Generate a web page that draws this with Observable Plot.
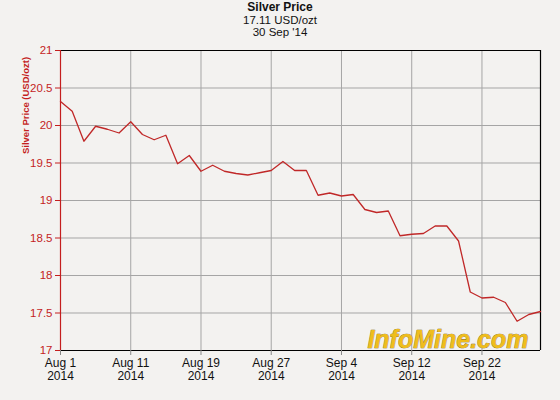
<!DOCTYPE html>
<html>
<head>
<meta charset="utf-8">
<script src="https://cdn.jsdelivr.net/npm/d3@7"></script>
<script src="https://cdn.jsdelivr.net/npm/@observablehq/plot@0.6"></script>
<style>
  html, body { margin: 0; padding: 0; background: #f3f2f0; }
  body { width: 560px; height: 400px; overflow: hidden; font-family: "Liberation Sans", Arial, sans-serif; }
  #title { height: 40px; text-align: center; color: #111; font-size: 11.5px; line-height: 12.5px; padding-top: 1px; box-sizing: border-box; }
  #title .main { font-weight: bold; font-size: 12px; }
  svg { display: block; }
</style>
</head>
<body>
<div id="title">
  <div class="main">Silver Price</div>
  <div>17.11 USD/ozt</div>
  <div>30 Sep '14</div>
</div>
<div id="chart"></div>
<script>
// Trading days, Aug 1 – Sep 29, 2014
const dates = [
  "Aug 1","Aug 4","Aug 5","Aug 6","Aug 7","Aug 8","Aug 11","Aug 12","Aug 13","Aug 14",
  "Aug 15","Aug 18","Aug 19","Aug 20","Aug 21","Aug 22","Aug 25","Aug 26","Aug 27","Aug 28",
  "Aug 29","Sep 1","Sep 2","Sep 3","Sep 4","Sep 5","Sep 8","Sep 9","Sep 10","Sep 11",
  "Sep 12","Sep 15","Sep 16","Sep 17","Sep 18","Sep 19","Sep 22","Sep 23","Sep 24","Sep 25",
  "Sep 26","Sep 29"
];
// Silver price, USD/ozt
const prices = [
  20.32, 20.19, 19.79, 19.99, 19.95, 19.90, 20.05, 19.88, 19.81, 19.87,
  19.49, 19.60, 19.39, 19.47, 19.39, 19.36, 19.34, 19.37, 19.40, 19.52,
  19.40, 19.40, 19.07, 19.10, 19.06, 19.08, 18.88, 18.84, 18.86, 18.53,
  18.55, 18.56, 18.66, 18.66, 18.46, 17.78, 17.70, 17.71, 17.64, 17.39,
  17.48, 17.52
];
const tickDates = ["Aug 1","Aug 11","Aug 19","Aug 27","Sep 4","Sep 12","Sep 22"];
const tickYear = "2014";
const yTicks = [17, 17.5, 18, 18.5, 19, 19.5, 20, 20.5, 21];
const yLabel = "Silver Price (USD/ozt)";
const watermark = "InfoMine.com";

const data = dates.map((d, i) => ({i, date: d, price: prices[i]}));
const xTicks = tickDates.map(d => dates.indexOf(d));
const lastIdx = dates.length - 1;

const red = "#c41e1e";
const chart = Plot.plot({
  width: 560,
  height: 360,
  marginLeft: 60,
  marginRight: 20,
  marginTop: 10,
  marginBottom: 50,
  style: {background: "#f3f2f0", fontFamily: "'Liberation Sans', Arial, sans-serif"},
  x: {domain: [0, lastIdx]},
  y: {domain: [17, 21]},
  marks: [
    Plot.gridX(xTicks, {stroke: "#a5a5a5", strokeOpacity: 1, strokeWidth: 1}),
    Plot.gridY(yTicks, {stroke: "#a5a5a5", strokeOpacity: 1, strokeWidth: 1}),
    Plot.text([watermark], {frameAnchor: "bottom-right", dx: -12, dy: -3, fontSize: 25, fontWeight: "bold", fontStyle: "italic", fill: "#efbd1c", stroke: "#7a5a00", strokeWidth: 0.6, textAnchor: "end", lineAnchor: "bottom"}),
    Plot.ruleY([21], {stroke: "#000", strokeWidth: 1.2}),
    Plot.ruleX([lastIdx], {stroke: "#000", strokeWidth: 1.2}),
    Plot.ruleY([17], {stroke: "#000", strokeWidth: 1.2}),
    Plot.ruleX([0], {stroke: red, strokeWidth: 1.2}),
    Plot.line(data, {x: "i", y: "price", stroke: "#c02828", strokeWidth: 1.3}),
    Plot.axisY(yTicks, {tickFormat: d => String(d), stroke: red, color: red, fill: red, tickSize: 5, tickPadding: 3, fontSize: 11.5, label: null}),
    Plot.axisX(xTicks, {tickFormat: i => dates[i] + "\n" + tickYear, stroke: "#888", fill: "#111", tickSize: 5, tickPadding: 3, fontSize: 12, lineHeight: 1.05, label: null}),
    Plot.text([yLabel], {frameAnchor: "top-left", dx: -38, dy: 55, rotate: -90, textAnchor: "middle", fontSize: 9.5, fontWeight: "bold", fill: red})
  ]
});
document.getElementById("chart").appendChild(chart);
</script>
</body>
</html>
